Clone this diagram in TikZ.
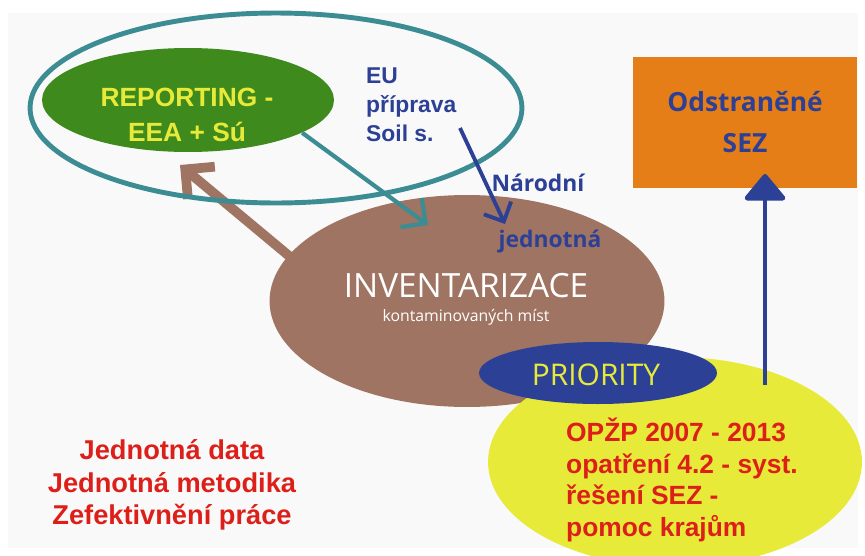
\documentclass[tikz,border=0pt]{standalone}
\usepackage{fontspec}
\setmainfont{Liberation Sans}
\newfontfamily\myriad{Open Sans}
\usepackage{tikz}
\usetikzlibrary{shapes.geometric,arrows.meta,positioning}
\definecolor{sezteal}{RGB}{60,140,148}
\definecolor{sezgreen}{RGB}{63,138,28}
\definecolor{sezyellow}{RGB}{232,234,58}
\definecolor{sezblue}{RGB}{44,64,150}
\definecolor{sezbrown}{RGB}{160,116,98}
\definecolor{sezorange}{RGB}{230,126,23}
\definecolor{sezred}{RGB}{221,31,26}
\definecolor{sezbg}{RGB}{249,249,249}
\tikzset{
    blob/.style={ellipse, inner sep=0pt},
    ringR/.style={blob, draw=sezteal, line width=2.8pt, minimum width=9.84cm, minimum height=3.8cm},
    blobG/.style={blob, fill=sezgreen, minimum width=5.84cm, minimum height=2.08cm},
    blobB/.style={blob, fill=sezbrown, minimum width=7.9cm, minimum height=4.24cm},
    blobY/.style={blob, fill=sezyellow, minimum width=7.48cm, minimum height=4.2cm},
    blobP/.style={blob, fill=sezblue, minimum width=4.76cm, minimum height=1.24cm},
    box/.style={rectangle, fill=sezorange, minimum width=4.48cm, minimum height=2.62cm},
    tealarrow/.style={draw=sezteal, line width=2.4pt, -{Straight Barb[length=0.36cm, width=0.72cm]}},
    bluearrow/.style={draw=sezblue, line width=2.2pt, -{Straight Barb[length=0.3cm, width=0.6cm]}},
    brownarrow/.style={draw=sezbrown, line width=5.5pt, -{Straight Barb[length=0.42cm, width=0.84cm]}},
    uparrow/.style={draw=sezblue, line width=2.8pt, -{Triangle[length=0.56cm, width=0.9cm, round]}},
    boldtext/.style={font=\fontsize{15.5}{18.5}\selectfont\bfseries, align=center},
    myriadtext/.style={font=\myriad\bfseries\fontsize{13}{16}\selectfont, text=sezblue},
}

\begin{document}
\begin{tikzpicture}[x=0.02cm, y=-0.02cm]
    \useasboundingbox (0,0) rectangle (865,555);
    \clip (0,0) rectangle (865,555);
    \fill[sezbg] (8,13) rectangle (858,548);

    % brown arrow behind inventory
    \coordinate (invtail) at (300,265);
    \coordinate (reptip) at (180,165);
    \draw[brownarrow] (invtail) -- (reptip);

    % blobs
    \node[blobB] (inventory) at (467,301) {};
    \node[blobY] (opzp) at (675,462) {};
    \node[ringR] (ring) at (276,108) {};
    \node[blobG] (reporting) at (188,100) {};
    \node[blobP] (priority) at (598,373) {};
    \node[box] (removed) at (745,122.5) {};

    % texts
    \node[boldtext, text=sezyellow, font=\fontsize{15}{20}\selectfont\bfseries] (reptxt) at (187,115) {REPORTING -\\EEA + Sú};
    \node[font=\fontsize{13}{16.4}\selectfont\bfseries, text=sezblue, align=left, anchor=north west] (eu) at (360,62) {EU\\příprava\\Soil s.};
    \node[myriadtext] (narodni) at (538,183) {Národní};
    \node[myriadtext] (jednotna) at (550,241) {jednotná};
    \node[font=\myriad\fontsize{19}{22}\selectfont, text=white] (invtxt) at (466,286) {INVENTARIZACE};
    \node[font=\myriad\fontsize{9}{11}\selectfont, text=white, below=0.35cm of invtxt.center] (invsub) {kontaminovaných míst};
    \node[font=\myriad\fontsize{17}{20}\selectfont, text=sezyellow] (prtxt) at (596,375) {PRIORITY};
    \node[font=\myriad\bfseries\fontsize{15}{23}\selectfont, text=sezblue, align=center] (removedtxt) at (745,122) {Odstraněné\\SEZ};
    \node[text=sezred, align=left, anchor=west, font=\fontsize{15}{18}\selectfont\bfseries] (opzptxt) at (560,480) {OPŽP 2007 - 2013\\opatření 4.2 - syst.\\řešení SEZ -\\pomoc krajům};
    \node[boldtext, text=sezred] (unified) at (172,485) {Jednotná data\\Jednotná metodika\\Zefektivnění práce};

    % arrows
    \coordinate (tealtip) at (428,225);
    \draw[tealarrow] (reporting.-16) -- (tealtip);
    \coordinate (eutail) at (460,128);
    \coordinate (eutip) at (505,224);
    \draw[bluearrow] (eutail) -- (eutip);
    \coordinate (uptail) at (765,385);
    \coordinate (uptip) at (765,174);
    \draw[uparrow] (uptail) -- (uptip);
\end{tikzpicture}
\end{document}
